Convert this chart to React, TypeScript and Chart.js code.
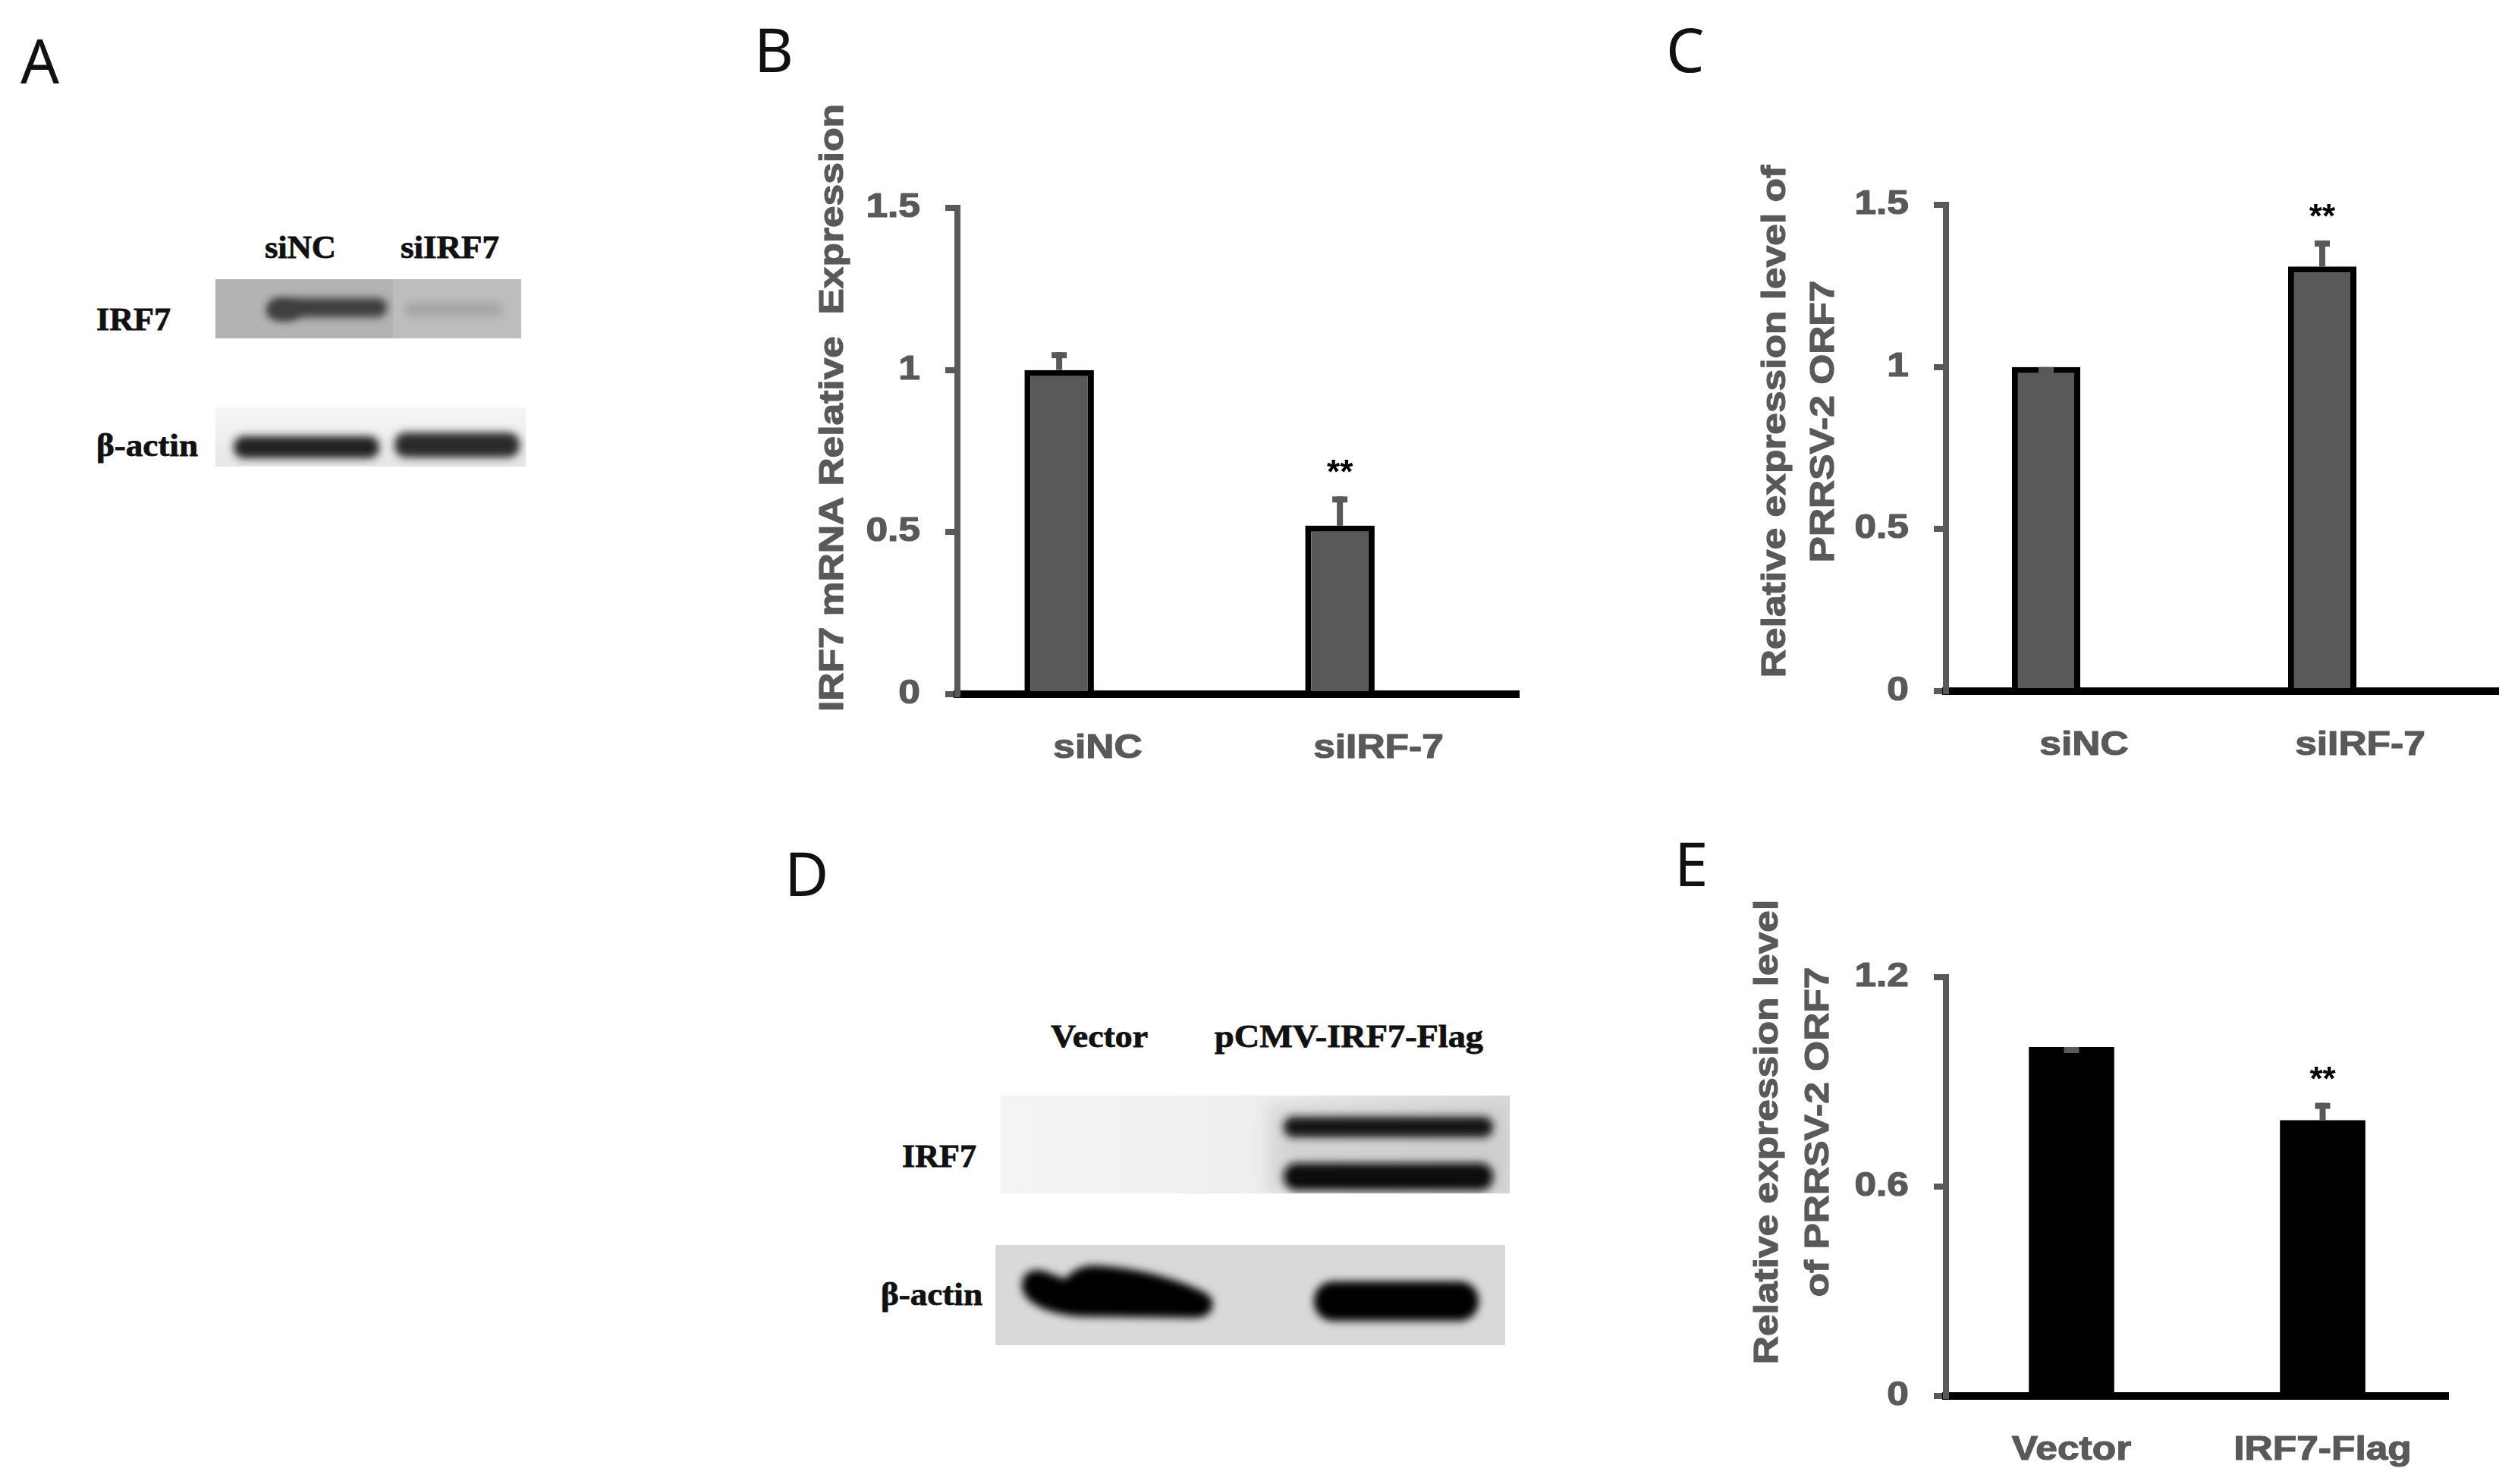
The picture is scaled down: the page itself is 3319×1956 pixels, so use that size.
import React, { useEffect, useRef } from 'react';
import { Chart, registerables } from 'chart.js';

Chart.register(...registerables);

// ---------------- data ----------------
const categoriesB = ['siNC', 'siIRF-7'];
const valuesB = [1.0, 0.52];
const errorsB = [0.055, 0.09];
const markersB = ['', '**'];
const titleB = ['IRF7 mRNA Relative  Expression'];
const ticksB = [0, 0.5, 1, 1.5];

const categoriesC = ['siNC', 'siIRF-7'];
const valuesC = [1.0, 1.31];
const errorsC = [0, 0.08];
const markersC = ['', '**'];
const titleC = ['Relative expression level of', 'PRRSV-2 ORF7'];
const ticksC = [0, 0.5, 1, 1.5];

const categoriesE = ['Vector', 'IRF7-Flag'];
const valuesE = [1.0, 0.79];
const errorsE = [0, 0.05];
const markersE = ['', '**'];
const titleE = ['Relative expression level', 'of PRRSV-2 ORF7'];
const ticksE = [0, 0.6, 1.2];

// ---------------- styles / layout ----------------
const GREY = '#595959';
const SANS = "'Liberation Sans', Arial, sans-serif";
const SERIF = "'Liberation Serif', 'Times New Roman', serif";
const LETTER = "'Noto Sans', 'Open Sans', sans-serif";
const SX = 1.17;

type Layout = {
  canvas: [number, number, number, number];
  plot: [number, number, number, number];
  titleX: number[];
  titleDy: number;
  fill: string;
  edge: string;
  edgeWidth: number;
  grouped: boolean;
  catPct: number;
  barPct: number;
};

const layoutB: Layout = {
  canvas: [1040, 100, 1010, 960],
  plot: [1262, 274, 2002, 915],
  titleX: [-163],
  titleDy: -57,
  fill: '#595959',
  edge: '#000000',
  edgeWidth: 8,
  grouped: true,
  catPct: 0.55,
  barPct: 0.9,
};
const layoutC: Layout = {
  canvas: [2230, 100, 1089, 960],
  plot: [2565, 270, 3293, 911],
  titleX: [-224, -160],
  titleDy: -35,
  fill: '#595959',
  edge: '#000000',
  edgeWidth: 8,
  grouped: true,
  catPct: 0.55,
  barPct: 0.9,
};
const layoutE: Layout = {
  canvas: [2230, 1080, 1089, 876],
  plot: [2565, 1288, 3227, 1840],
  titleX: [-234, -167],
  titleDy: -72,
  fill: '#000000',
  edge: '#000000',
  edgeWidth: 0,
  grouped: false,
  catPct: 0.4,
  barPct: 0.85,
};

function stretchText(
  ctx: CanvasRenderingContext2D,
  text: string,
  x: number,
  y: number,
  align: CanvasTextAlign,
  baseline: CanvasTextBaseline,
  sx: number,
  rotate = false
) {
  ctx.save();
  ctx.translate(x, y);
  if (rotate) ctx.rotate(-Math.PI / 2);
  ctx.scale(sx, 1);
  ctx.textAlign = align;
  ctx.textBaseline = baseline;
  ctx.fillText(text, 0, 0);
  ctx.strokeText(text, 0, 0);
  ctx.restore();
}

type PanelProps = {
  labels: string[];
  values: number[];
  errors: number[];
  markers: string[];
  title: string[];
  ticks: number[];
  layout: Layout;
};

function BarPanel({ labels, values, errors, markers, title, ticks, layout }: PanelProps) {
  const ref = useRef<HTMLCanvasElement | null>(null);
  useEffect(() => {
    const [cl, ct, cw, ch] = layout.canvas;
    const [pl, pt, pr, pb] = layout.plot;
    const datasets: any[] = [
      {
        data: values,
        backgroundColor: layout.fill,
        borderColor: layout.edge,
        borderWidth: layout.edgeWidth,
        categoryPercentage: layout.catPct,
        barPercentage: layout.barPct,
      },
    ];
    if (layout.grouped) {
      datasets.push({
        data: labels.map(() => null),
        backgroundColor: 'rgba(0,0,0,0)',
        categoryPercentage: layout.catPct,
        barPercentage: layout.barPct,
      });
    }

    const panelPlugin = {
      id: 'panelText',
      afterDatasetsDraw(chart: any) {
        const ctx: CanvasRenderingContext2D = chart.ctx;
        const ys = chart.scales.y;
        const meta = chart.getDatasetMeta(0);
        ctx.save();
        meta.data.forEach((el: any, i: number) => {
          const v = values[i];
          const e = errors[i];
          const yTop = ys.getPixelForValue(v + e);
          const yBar = ys.getPixelForValue(v);
          ctx.fillStyle = GREY;
          if (yBar - yTop > 0) ctx.fillRect(el.x - 4, yTop, 8, yBar - yTop);
          ctx.fillRect(el.x - 10, yTop, 20, 8);
          if (markers[i]) {
            ctx.fillStyle = '#000';
            ctx.font = `bold 44px ${SANS}`;
            ctx.textAlign = 'center';
            ctx.textBaseline = 'alphabetic';
            ctx.fillText(markers[i], el.x, yTop - 17);
          }
        });
        ctx.restore();
      },
      afterDraw(chart: any) {
        const ctx: CanvasRenderingContext2D = chart.ctx;
        const xs = chart.scales.x;
        const ys = chart.scales.y;
        const area = chart.chartArea;
        ctx.save();
        ctx.fillStyle = GREY;
        ctx.strokeStyle = GREY;
        ctx.lineWidth = 1.2;
        ctx.lineJoin = 'round';
        ctx.font = `bold 44px ${SANS}`;
        ys.ticks.forEach((t: any, i: number) => {
          const py = ys.getPixelForTick(i);
          stretchText(ctx, String(t.value), area.left - 49, py, 'right', 'middle', SX);
        });
        labels.forEach((lab, i) => {
          const px = xs.getPixelForTick(i);
          stretchText(ctx, lab, px, area.bottom + 84, 'center', 'alphabetic', SX);
        });
        const cy = (area.top + area.bottom) / 2 + layout.titleDy;
        title.forEach((line, i) => {
          stretchText(ctx, line, area.left + layout.titleX[i], cy, 'center', 'middle', SX, true);
        });
        ctx.restore();
      },
    };

    const chart = new Chart(ref.current as HTMLCanvasElement, {
      type: 'bar',
      data: { labels, datasets },
      options: {
        animation: false,
        responsive: false,
        devicePixelRatio: 1,
        events: [],
        layout: {
          autoPadding: false,
          padding: { top: pt - ct, right: cl + cw - pr, left: 0, bottom: 0 },
        },
        plugins: {
          legend: { display: false },
          tooltip: { enabled: false },
        },
        scales: {
          x: {
            z: 1,
            grid: { display: false },
            border: { display: true, color: '#000000', width: 10 },
            ticks: { display: false },
            afterFit: (s: any) => {
              s.height = ct + ch - pb;
            },
          },
          y: {
            min: ticks[0],
            max: ticks[ticks.length - 1],
            afterBuildTicks: (s: any) => {
              s.ticks = ticks.map((v) => ({ value: v }));
            },
            grid: {
              drawOnChartArea: false,
              drawTicks: true,
              tickLength: 16,
              color: GREY,
              lineWidth: 8,
              tickColor: GREY,
              tickWidth: 8,
            },
            border: { display: true, color: GREY, width: 8 },
            ticks: { display: false },
            afterFit: (s: any) => {
              s.width = pl - cl;
            },
          },
        },
      } as any,
      plugins: [panelPlugin],
    });
    return () => chart.destroy();
  }, []);
  const [cl, ct, cw, ch] = layout.canvas;
  return (
    <canvas
      ref={ref}
      width={cw}
      height={ch}
      style={{ position: 'absolute', left: cl, top: ct, width: cw, height: ch }}
    />
  );
}

function Label({ x, y, len, children }: { x: number; y: number; len: number; children: string }) {
  return (
    <text
      x={x}
      y={y}
      fontFamily={SERIF}
      fontWeight={700}
      fontSize={42}
      fill="#111"
      stroke="#111"
      strokeWidth={0.8}
      textLength={len}
      lengthAdjust="spacingAndGlyphs"
    >
      {children}
    </text>
  );
}

function Blots() {
  return (
    <svg
      width={3319}
      height={1956}
      style={{ position: 'absolute', left: 0, top: 0 }}
      xmlns="http://www.w3.org/2000/svg"
    >
      <defs>
        <filter id="bl4" x="-30%" y="-80%" width="160%" height="260%">
          <feGaussianBlur stdDeviation="4" />
        </filter>
        <filter id="bl5" x="-30%" y="-80%" width="160%" height="260%">
          <feGaussianBlur stdDeviation="5.5" />
        </filter>
        <filter id="bl6" x="-30%" y="-80%" width="160%" height="260%">
          <feGaussianBlur stdDeviation="6" />
        </filter>
        <filter id="bl12" x="-30%" y="-80%" width="160%" height="260%">
          <feGaussianBlur stdDeviation="12" />
        </filter>
        <clipPath id="cA1">
          <rect x={284} y={368} width={403} height={78} />
        </clipPath>
        <clipPath id="cA2">
          <rect x={284} y={537} width={409} height={78} />
        </clipPath>
        <clipPath id="cD1">
          <rect x={1319} y={1444} width={671} height={129} />
        </clipPath>
        <clipPath id="cD2">
          <rect x={1312} y={1641} width={672} height={132} />
        </clipPath>
        <linearGradient id="gA2" x1="0" y1="0" x2="0" y2="1">
          <stop offset="0%" stopColor="#f6f6f6" />
          <stop offset="45%" stopColor="#efefef" />
          <stop offset="100%" stopColor="#e6e6e6" />
        </linearGradient>
        <linearGradient id="gD1" x1="0" y1="0" x2="1" y2="0">
          <stop offset="0%" stopColor="#f4f4f4" />
          <stop offset="55%" stopColor="#eeeeee" />
          <stop offset="75%" stopColor="#e4e4e4" />
          <stop offset="100%" stopColor="#dadada" />
        </linearGradient>
      </defs>

      {/* panel letters */}
      <g fontFamily={LETTER} fontSize={80} fill="#111">
        <text x={27} y={110}>A</text>
        <text x={994} y={95}>B</text>
        <text x={2196} y={95}>C</text>
        <text x={1034} y={1181}>D</text>
        <text x={2207} y={1168}>E</text>
      </g>

      {/* Panel A blot */}
      <Label x={349} y={340} len={94}>siNC</Label>
      <Label x={528} y={340} len={130}>siIRF7</Label>
      <Label x={127} y={435} len={98}>IRF7</Label>
      <Label x={127} y={601} len={134}>β-actin</Label>

      <rect x={284} y={368} width={234} height={78} fill="#b3b3b3" />
      <rect x={518} y={368} width={169} height={78} fill="#bdbdbd" />
      <g clipPath="url(#cA1)">
        <rect x={354} y={393} width={156} height={25} rx={12} fill="#3c3c3c" filter="url(#bl5)" />
        <ellipse cx={374} cy={410} rx={22} ry={13} fill="#404040" filter="url(#bl5)" />
        <rect x={533} y={399} width={130} height={18} rx={9} fill="#a4a4a4" filter="url(#bl6)" />
      </g>

      <rect x={284} y={537} width={226} height={78} fill="url(#gA2)" />
      <rect x={510} y={537} width={183} height={78} fill="url(#gA2)" />
      <g clipPath="url(#cA2)">
        <rect x={308} y={575} width={192} height={29} rx={14} fill="#222222" filter="url(#bl5)" />
        <rect x={520} y={570} width={165} height={33} rx={15} fill="#2a2a2a" filter="url(#bl5)" />
      </g>

      {/* Panel D blot */}
      <Label x={1385} y={1380} len={128}>Vector</Label>
      <Label x={1601} y={1380} len={354}>pCMV-IRF7-Flag</Label>
      <Label x={1189} y={1538} len={98}>IRF7</Label>
      <Label x={1161} y={1720} len={134}>β-actin</Label>

      <rect x={1319} y={1444} width={671} height={129} fill="url(#gD1)" />
      <g clipPath="url(#cD1)">
        <rect x={1672} y={1456} width={318} height={118} fill="#c6c6c6" opacity={0.65} filter="url(#bl12)" />
        <rect x={1692} y={1472} width={276} height={27} rx={13} fill="#161616" filter="url(#bl5)" />
        <rect x={1692} y={1533} width={276} height={36} rx={17} fill="#070707" filter="url(#bl5)" />
      </g>

      <rect x={1312} y={1641} width={672} height={132} fill="#d9d9d9" />
      <g clipPath="url(#cD2)">
        <path
          d="M1347,1694 C1347,1676 1362,1671 1378,1676 L1404,1686 C1414,1674 1426,1668 1442,1668 C1500,1670 1560,1688 1592,1706 C1604,1716 1600,1736 1575,1737 L1420,1735 C1378,1731 1347,1716 1347,1694 Z"
          fill="#060606"
          filter="url(#bl5)"
        />
        <rect x={1732} y={1689} width={217} height={52} rx={25} fill="#060606" filter="url(#bl5)" />
      </g>
    </svg>
  );
}

export default function App() {
  return (
    <div
      style={{
        position: 'absolute',
        left: 0,
        top: 0,
        width: 3319,
        height: 1956,
        background: '#ffffff',
        overflow: 'hidden',
      }}
    >
      <Blots />
      <BarPanel
        labels={categoriesB}
        values={valuesB}
        errors={errorsB}
        markers={markersB}
        title={titleB}
        ticks={ticksB}
        layout={layoutB}
      />
      <BarPanel
        labels={categoriesC}
        values={valuesC}
        errors={errorsC}
        markers={markersC}
        title={titleC}
        ticks={ticksC}
        layout={layoutC}
      />
      <BarPanel
        labels={categoriesE}
        values={valuesE}
        errors={errorsE}
        markers={markersE}
        title={titleE}
        ticks={ticksE}
        layout={layoutE}
      />
    </div>
  );
}
